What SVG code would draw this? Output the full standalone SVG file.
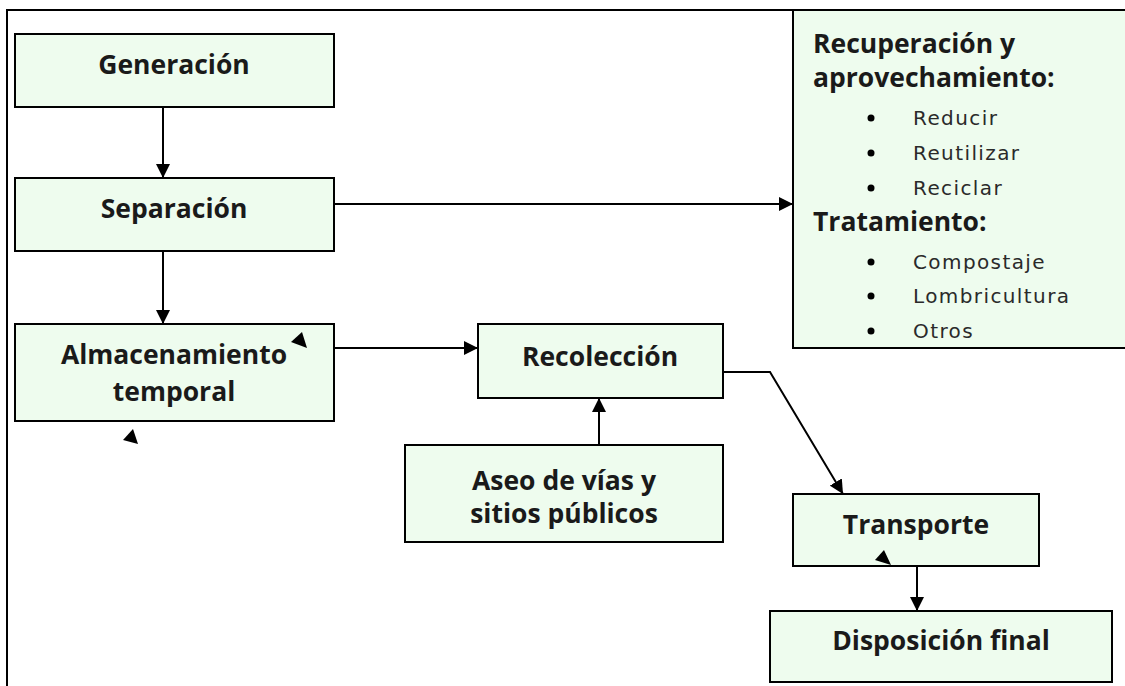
<svg xmlns="http://www.w3.org/2000/svg" width="1125" height="686" viewBox="0 0 1125 686">
<style>
.box{fill:#EEFCEE;stroke:#000;stroke-width:2}
.lbl{font-family:"Open Sans","Noto Sans",sans-serif;font-weight:bold;font-size:26.5px;fill:#1a1a1a;text-anchor:middle}
.hd{font-family:"Open Sans","Noto Sans",sans-serif;font-weight:bold;font-size:26.5px;fill:#1a1a1a}
.li{font-family:"DejaVu Sans","Noto Sans",sans-serif;font-size:20px;letter-spacing:1.4px;fill:#2a2a2a}
.ln{fill:none;stroke:#000;stroke-width:2}
.tri{fill:#000}
</style>
<defs>
<marker id="ah" viewBox="0 0 14 14" refX="14" refY="7" markerWidth="14" markerHeight="14" markerUnits="userSpaceOnUse" orient="auto">
<path d="M0,0 L14,7 L0,14 Z" fill="#000"/>
</marker>
</defs>
<rect width="1125" height="686" fill="#fff"/>
<path class="ln" d="M7,686 V10 H793"/>

<g id="recuperacion">
<rect class="box" x="793" y="10" width="340" height="338"/>
<text class="hd" x="813" y="53">Recuperación y</text>
<text class="hd" x="813" y="87">aprovechamiento:</text>
<circle cx="871" cy="118" r="3.5" fill="#000"/>
<text class="li" x="913" y="125">Reducir</text>
<circle cx="871" cy="153" r="3.5" fill="#000"/>
<text class="li" x="913" y="160">Reutilizar</text>
<circle cx="871" cy="188" r="3.5" fill="#000"/>
<text class="li" x="913" y="195">Reciclar</text>
<text class="hd" x="813" y="231">Tratamiento:</text>
<circle cx="871" cy="262" r="3.5" fill="#000"/>
<text class="li" x="913" y="269">Compostaje</text>
<circle cx="871" cy="296" r="3.5" fill="#000"/>
<text class="li" x="913" y="303">Lombricultura</text>
<circle cx="871" cy="331" r="3.5" fill="#000"/>
<text class="li" x="913" y="338">Otros</text>
</g>

<g id="generacion">
<rect class="box" x="15" y="34" width="319" height="73"/>
<text class="lbl" x="174" y="74">Generación</text>
</g>
<g id="separacion">
<rect class="box" x="15" y="178" width="319" height="73"/>
<text class="lbl" x="174" y="218">Separación</text>
</g>
<g id="almacenamiento">
<rect class="box" x="15" y="324" width="319" height="97"/>
<text class="lbl" x="174" y="364">Almacenamiento</text>
<text class="lbl" x="174" y="401">temporal</text>
</g>
<g id="recoleccion">
<rect class="box" x="478" y="324" width="245" height="74"/>
<text class="lbl" x="600" y="366">Recolección</text>
</g>
<g id="aseo">
<rect class="box" x="405" y="445" width="318" height="97"/>
<text class="lbl" x="564" y="490">Aseo de vías y</text>
<text class="lbl" x="564" y="523">sitios públicos</text>
</g>
<g id="transporte">
<rect class="box" x="793" y="494" width="246" height="72"/>
<text class="lbl" x="916" y="534">Transporte</text>
</g>
<g id="disposicion">
<rect class="box" x="770" y="611" width="342" height="71"/>
<text class="lbl" x="941" y="650">Disposición final</text>
</g>

<g id="connectors">
<path class="ln" d="M163,107 V178" marker-end="url(#ah)"/>
<path class="ln" d="M163,251 V324" marker-end="url(#ah)"/>
<path class="ln" d="M334,204 H793" marker-end="url(#ah)"/>
<path class="ln" d="M334,348 H478" marker-end="url(#ah)"/>
<path class="ln" d="M599,445 V398" marker-end="url(#ah)"/>
<path class="ln" d="M723,372 H770 L843,494" marker-end="url(#ah)"/>
<path class="ln" d="M917,566 V611" marker-end="url(#ah)"/>
<polygon class="tri" points="291,342 302,332 307,348"/>
<polygon class="tri" points="123,440 133,429 138,444"/>
<polygon class="tri" points="875,560 884,550 891,565"/>
</g>
</svg>
